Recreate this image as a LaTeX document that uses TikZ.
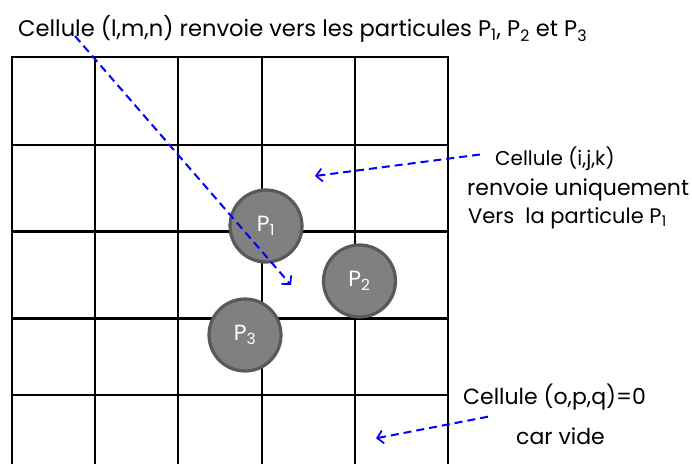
\documentclass[tikz,border=0pt]{standalone}
\usepackage{fontspec}
\setmainfont{Poppins}
\usetikzlibrary{arrows.meta}
\definecolor{partfill}{HTML}{808080}
\definecolor{partedge}{HTML}{595959}
\tikzset{
  gridline/.style={line width=2.8pt,black},
  particle/.style={circle,fill=partfill,draw=partedge,line width=3.2pt,minimum size=72pt,inner sep=0pt,text=white,font=\fontsize{22}{26}\selectfont},
  label/.style={anchor=base west,inner sep=0pt,font=\fontsize{22}{26}\selectfont},
  pointer/.style={blue,line width=2pt,dash pattern=on 8pt off 5pt,-{Straight Barb[length=6pt,width=13pt,line width=1.7pt]}}
}
\begin{document}
\begin{tikzpicture}[x=1pt,y=-1pt]
\useasboundingbox (0,0) rectangle (692,464);
% grille
\draw[gridline] (12,464) -- (12,57) -- (448,57) -- (448,464);
\draw[gridline] (95,57) -- (95,464);
\draw[gridline] (178,57) -- (178,464);
\draw[gridline] (262,57) -- (262,464);
\draw[gridline] (355,57) -- (355,464);
\draw[gridline] (12,145) -- (448,145);
\draw[gridline] (12,231.5) -- (448,231.5);
\draw[gridline] (12,318.5) -- (448,318.5);
\draw[gridline] (12,395) -- (448,395);
% particules
\node[particle] (p1) at (266,226) {P\textsubscript{1}};
\node[particle] (p2) at (359.5,281) {P\textsubscript{2}};
\node[particle] (p3) at (245,335) {P\textsubscript{3}};
% textes
\node[label,font=\fontsize{22.6}{26}\selectfont] (lmn) at (18,36.7) {Cellule (l,m,n) renvoie vers les particules P\textsubscript{1}, P\textsubscript{2} et P\textsubscript{3}};
\node[label,font=\fontsize{20}{24}\selectfont] (ijk) at (495,165) {Cellule (i,j,k)};
\node[label] (ijka) at (467,195) {renvoie uniquement};
\node[label,font=\fontsize{21}{24}\selectfont] (ijkb) at (468,223.3) {Vers\ \ la particule P\textsubscript{1}};
\node[label] (opq) at (463,404) {Cellule (o,p,q)=0};
\node[label] (opqa) at (516,444) {car vide};
% fleches
\coordinate (lmnfrom) at (75,36);
\coordinate (lmnto) at (291,285);
\coordinate (ijkfrom) at (480,154.5);
\coordinate (ijkto) at (315,176);
\coordinate (opqfrom) at (488,416.7);
\coordinate (opqto) at (376,438.3);
\draw[pointer] (lmnfrom) -- (lmnto);
\draw[pointer] (ijkfrom) -- (ijkto);
\draw[pointer] (opqfrom) -- (opqto);
\end{tikzpicture}
\end{document}
